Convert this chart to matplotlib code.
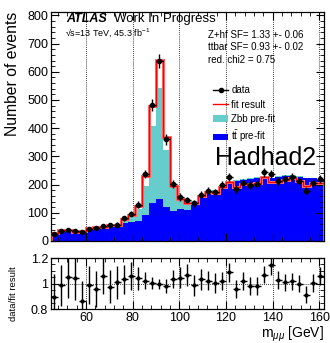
import numpy as np
import matplotlib
matplotlib.use("Agg")
import matplotlib.pyplot as plt
from matplotlib.ticker import MultipleLocator
from matplotlib.lines import Line2D
from matplotlib.patches import Patch

plt.rcParams["font.family"] = ["Liberation Sans", "DejaVu Sans"]
plt.rcParams["mathtext.fontset"] = "custom"
plt.rcParams["mathtext.rm"] = "Liberation Sans"
plt.rcParams["mathtext.it"] = "Liberation Sans:italic"
plt.rcParams["mathtext.bf"] = "Liberation Sans:bold"

# binning: 3 GeV bins from 45 to 162 GeV
bin_lo = 45
bin_w = 3
n_bins = 39

data = [25, 37, 40, 35, 31, 44, 46, 54, 56, 58,
        80, 97, 129, 237, 482, 638, 360, 203, 156, 145,
        133, 164, 179, 172, 197, 226, 184, 207, 199, 203,
        243, 238, 213, 219, 226, 214, 179, 207, 219]
fit = [28, 37.5, 38, 33.5, 36, 44.5, 48, 51, 57.5, 57.5,
       77.5, 91.5, 124, 232, 480, 642, 367, 196, 149, 136,
       135, 159, 175, 171, 193, 208, 193, 203, 203, 207,
       227, 208, 208, 217, 222, 214, 196, 206, 207]
ttbar = [31, 36, 37, 37, 38, 42, 45, 48, 52, 54,
         64, 68, 70, 93, 135, 149, 120, 105, 113, 110,
         130, 155, 172, 175, 195, 208, 212, 216, 220, 224,
         226, 222, 228, 230, 230, 228, 222, 222, 218]
zbb = [1, 1, 1, 2, 2, 2, 3, 4, 4, 6,
       14, 22, 43, 103, 272, 392, 204, 86, 43, 34,
       12, 8, 6, 5, 4, 4, 4, 3, 3, 3,
       3, 3, 3, 3, 3, 3, 3, 3, 3]

edges = bin_lo + bin_w * np.arange(n_bins + 1)
centers = 0.5 * (edges[:-1] + edges[1:])
data = np.array(data, dtype=float)
fit = np.array(fit, dtype=float)
ttbar = np.array(ttbar, dtype=float)
zbb = np.array(zbb, dtype=float)

ratio = data / fit
ratio_err = np.sqrt(data) / fit

fig = plt.figure(figsize=(3.30, 3.43), dpi=100)
ax = fig.add_axes([0.1545, 0.2974, 0.827, 0.6676])
rax = fig.add_axes([0.1545, 0.0991, 0.827, 0.1487])

# -----------------------------
# main panel
# -----------------------------
ax.stairs(ttbar, edges, fill=True, color="#0000ff", zorder=1)
ax.stairs(ttbar + zbb, edges, baseline=ttbar, fill=True, color="#66cccc", zorder=1)
ax.stairs(fit, edges, color="#ff7070", lw=2.2, zorder=2)
ax.stairs(fit, edges, color="#ff0000", lw=0.9, zorder=3)
ax.errorbar(centers, data, yerr=np.sqrt(data), xerr=bin_w / 2, fmt="o",
            color="black", ms=3, lw=1, capsize=0, zorder=4)

ax.set_xlim(45, 162)
ax.set_ylim(0, 812)
for xv in range(60, 161, 20):
    ax.axvline(xv, color="black", ls=(0, (1, 1.5)), lw=0.6, zorder=0.5)

ax.set_ylabel("Number of events", fontsize=11.3, loc="top")
ax.yaxis.set_label_coords(-0.112, 1.0)
ax.tick_params(axis="x", labelbottom=False)

ax.text(0.055, 0.956, "ATLAS", transform=ax.transAxes, fontsize=9,
        fontweight="bold", fontstyle="italic")
ax.text(0.232, 0.956, "Work In Progress", transform=ax.transAxes, fontsize=9.5)
ax.text(0.051, 0.895, "\u221as=13 TeV, 45.3 fb$^{-1}$", transform=ax.transAxes,
        fontsize=6.5)
ax.text(0.575, 0.886, "Z+hf SF= 1.33 +- 0.06", transform=ax.transAxes, fontsize=7)
ax.text(0.575, 0.834, "ttbar SF= 0.93 +- 0.02", transform=ax.transAxes, fontsize=7)
ax.text(0.575, 0.777, "red. chi2 = 0.75", transform=ax.transAxes, fontsize=7)
ax.text(0.601, 0.332, "Hadhad2", transform=ax.transAxes, fontsize=18)

handles = [
    Line2D([], [], color="black", marker="o", ms=3, lw=1),
    Line2D([], [], color="#ff0000", lw=1),
    Patch(facecolor="#66cccc"),
    Patch(facecolor="#0000ff"),
]
labels = ["data", "fit result", "Zbb pre-fit", r"t$\bar{\rm t}$ pre-fit"]
ax.legend(handles, labels, loc="upper left", bbox_to_anchor=(0.593, 0.68),
          frameon=False, fontsize=7, handlelength=1.6, handletextpad=0.3,
          labelspacing=0.45, borderpad=0, borderaxespad=0)

# -----------------------------
# ratio panel
# -----------------------------
rax.errorbar(centers, ratio, yerr=ratio_err, xerr=bin_w / 2, fmt="o",
             color="black", ms=2, lw=1, capsize=0)
rax.set_xlim(45, 162)
rax.set_ylim(0.8, 1.2)
rax.set_yticks([0.8, 1.0, 1.2], ["0.8", "1", "1.2"])
for xv in range(60, 161, 20):
    rax.axvline(xv, color="black", ls=(0, (1, 1.5)), lw=0.6, zorder=0.5)
rax.axhline(1.0, color="black", ls=(0, (1, 1.5)), lw=0.6, zorder=0.5)
rax.set_ylabel("data/fit result", fontsize=6.8)
rax.yaxis.set_label_coords(-0.122, 0.3)
rax.set_xlabel(r"m$_{\mu\mu}$ [GeV]", fontsize=10, loc="right", labelpad=1)

for a in (ax, rax):
    a.xaxis.set_major_locator(MultipleLocator(20))
    a.xaxis.set_minor_locator(MultipleLocator(4))
    a.tick_params(which="both", direction="in", top=True, right=True,
                  labelsize=9, pad=2)
    a.tick_params(which="major", length=5.5, width=0.8)
    a.tick_params(which="minor", length=2.8, width=0.6)
    for s in a.spines.values():
        s.set_linewidth(0.9)
ax.yaxis.set_major_locator(MultipleLocator(100))
ax.yaxis.set_minor_locator(MultipleLocator(20))
rax.yaxis.set_minor_locator(MultipleLocator(0.05))

fig.savefig("out.png", dpi=100)
